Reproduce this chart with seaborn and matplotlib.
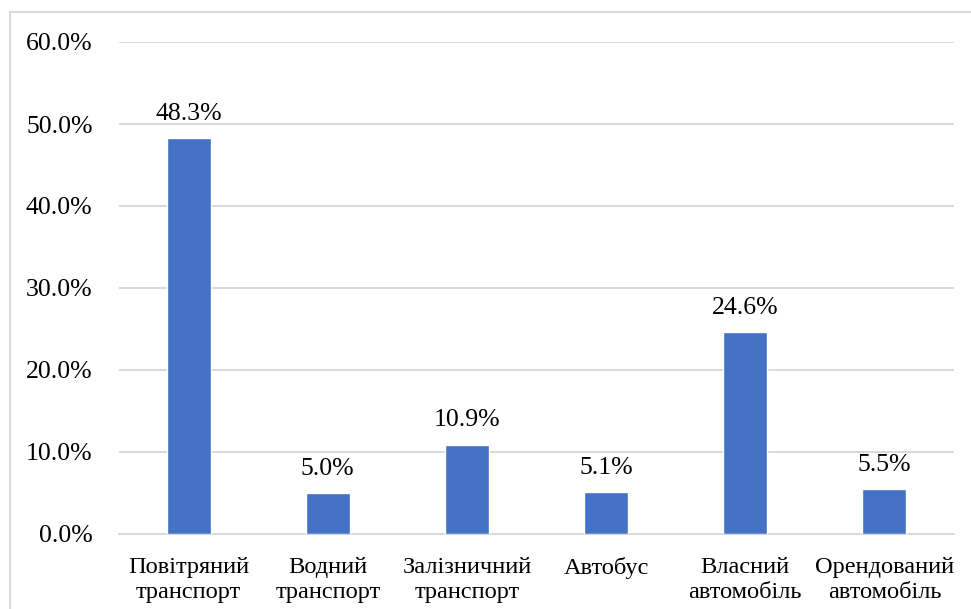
import matplotlib
matplotlib.use("Agg")
import matplotlib.pyplot as plt
import seaborn as sns
import pandas as pd
from matplotlib.lines import Line2D

categories = [
    "Повітряний\nтранспорт",
    "Водний\nтранспорт",
    "Залізничний\nтранспорт",
    "Автобус",
    "Власний\nавтомобіль",
    "Орендований\nавтомобіль",
]
shares = [48.3, 5.0, 10.9, 5.1, 24.6, 5.5]
y_ticks = [0, 10, 20, 30, 40, 50, 60]

sns.set_theme(style="white")
plt.rcParams["font.family"] = ["Liberation Serif", "DejaVu Serif"]

df = pd.DataFrame({"cat": categories, "share": shares})

fig = plt.figure(figsize=(9.71, 6.09), dpi=100)
ax = fig.add_axes([119 / 971, 75 / 609, 835 / 971, 492 / 609])

sns.barplot(data=df, x="cat", y="share", color="#4472C4", width=0.316,
            saturation=1, ax=ax, zorder=3)

ax.set_ylim(0, 60)
ax.set_yticks(y_ticks)
ax.set_yticklabels([f"{v:.1f}%" for v in y_ticks])
ax.yaxis.grid(True, color="#D9D9D9", linewidth=1.4, zorder=0)
ax.set_axisbelow(True)
for s in ["left", "right", "top"]:
    ax.spines[s].set_visible(False)
ax.spines["bottom"].set_color("#D9D9D9")
ax.spines["bottom"].set_linewidth(1.4)
ax.set_xlabel("")
ax.set_ylabel("")
ax.tick_params(axis="y", length=0, pad=19, labelsize=18.5, colors="black")
ax.tick_params(axis="x", length=0, pad=16.5, labelsize=17.6, colors="black")
for lbl in ax.get_xticklabels():
    lbl.set_linespacing(1.25)

for patch, v in zip(ax.patches, shares):
    ax.annotate(f"{v:.1f}%", (patch.get_x() + patch.get_width() / 2, patch.get_height()),
                xytext=(0, 9.5), textcoords="offset points", ha="center", va="bottom",
                fontsize=18.5, color="black")

# frame edges of the chart area
fig.add_artist(Line2D([10 / 971, 10 / 971], [0, 1 - 12 / 609], transform=fig.transFigure,
                      color="#D9D9D9", linewidth=1.4))
fig.add_artist(Line2D([10 / 971, 1], [1 - 12 / 609, 1 - 12 / 609], transform=fig.transFigure,
                      color="#D9D9D9", linewidth=1.4))

fig.savefig("out.png", dpi=100)
